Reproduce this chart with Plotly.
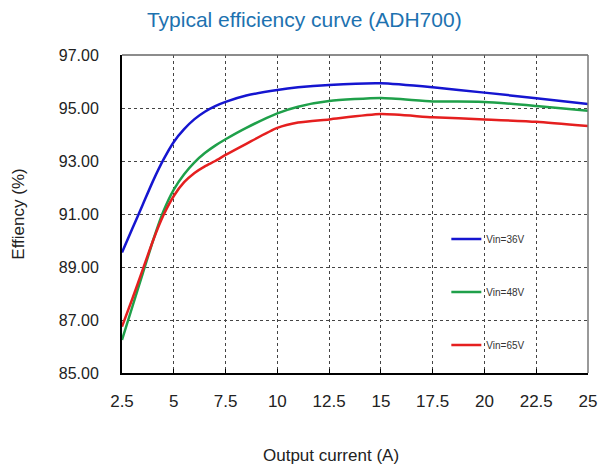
import plotly.graph_objects as go

current = [2.5, 3.0, 3.5, 4.0, 4.5, 5.0, 5.5, 6.0, 6.5, 7.0, 7.5, 8.5, 10.0, 11.0, 12.5, 15.0, 17.5, 20.0, 22.5, 25.0]
eff_36v = [89.55, 90.45, 91.35, 92.25, 93.05, 93.72, 94.2, 94.58, 94.86, 95.07, 95.23, 95.47, 95.68, 95.78, 95.87, 95.93, 95.78, 95.58, 95.37, 95.15]
eff_48v = [86.25, 87.5, 88.75, 90.0, 91.1, 91.92, 92.5, 92.95, 93.3, 93.58, 93.82, 94.25, 94.8, 95.05, 95.26, 95.38, 95.25, 95.23, 95.08, 94.9]
eff_65v = [86.75, 87.8, 88.9, 90.0, 90.95, 91.68, 92.2, 92.55, 92.8, 93.0, 93.23, 93.65, 94.25, 94.45, 94.57, 94.77, 94.65, 94.57, 94.48, 94.32]

series_names = ["Vin=36V", "Vin=48V", "Vin=65V"]
series_colors = ["#1515d0", "#1fa04a", "#e51f1f"]
x_ticks = [2.5, 5, 7.5, 10, 12.5, 15, 17.5, 20, 22.5, 25]
x_tick_labels = ["2.5", "5", "7.5", "10", "12.5", "15", "17.5", "20", "22.5", "25"]
y_ticks = [85, 87, 89, 91, 93, 95, 97]
y_tick_labels = ["85.00", "87.00", "89.00", "91.00", "93.00", "95.00", "97.00"]

fig = go.Figure()
for name, vals, col in zip(series_names, [eff_36v, eff_48v, eff_65v], series_colors):
    fig.add_trace(go.Scatter(
        x=current, y=vals, mode="lines", name=name, legendgroup=name,
        line=dict(color=col, width=2.5, shape="spline", smoothing=0.6),
    ))

font_main = "Liberation Sans, Arial, sans-serif"

fig.update_layout(
    width=599, height=465,
    margin=dict(l=122, r=11, t=55, b=92, autoexpand=False),
    paper_bgcolor="white", plot_bgcolor="white",
    title=dict(text="Typical efficiency curve (ADH700)", x=0.508, xanchor="center",
               y=0.957, yanchor="middle",
               font=dict(family=font_main, size=21, color="#1d72b0")),
    showlegend=True,
    legend=dict(x=0.696, y=0.467, xanchor="left", yanchor="top",
                bgcolor="rgba(0,0,0,0)", tracegroupgap=34,
                font=dict(family=font_main, size=10, color="#333333"),
                itemwidth=30),
    xaxis=dict(range=[2.5, 25], tickvals=x_ticks, ticktext=x_tick_labels,
               automargin=False,
               showgrid=True, gridcolor="#444444", griddash="dot", gridwidth=1.3,
               showline=True, linecolor="black", linewidth=2,
               ticks="inside", ticklen=4, tickcolor="black",
               ticklabelstandoff=12,
               tickfont=dict(family=font_main, size=17, color="#222222"),
               zeroline=False),
    yaxis=dict(range=[85, 97], tickvals=y_ticks, ticktext=y_tick_labels,
               automargin=False,
               showgrid=True, gridcolor="#444444", griddash="dot", gridwidth=1.3,
               showline=True, linecolor="black", linewidth=2,
               ticks="", ticklabelstandoff=18,
               tickfont=dict(family=font_main, size=16, color="#222222"),
               title=dict(text="Effiency (%)", standoff=30,
                          font=dict(family=font_main, size=17, color="#222222")),
               zeroline=False),
    annotations=[
        dict(text="Output current (A)", xref="paper", yref="paper",
             x=0.448, y=0, yshift=-82, xanchor="center", yanchor="middle",
             showarrow=False,
             font=dict(family=font_main, size=17, color="#222222")),
    ],
    shapes=[
        dict(type="line", xref="paper", yref="paper", x0=0, x1=1, y0=1, y1=1,
             line=dict(color="#666666", width=1.5)),
        dict(type="line", xref="paper", yref="paper", x0=1, x1=1, y0=0, y1=1,
             line=dict(color="#777777", width=1.5)),
    ],
)

fig.write_html("out.html",
               config={"displayModeBar": False},
               post_script="document.body.style.margin='0';document.body.style.overflow='hidden';")
